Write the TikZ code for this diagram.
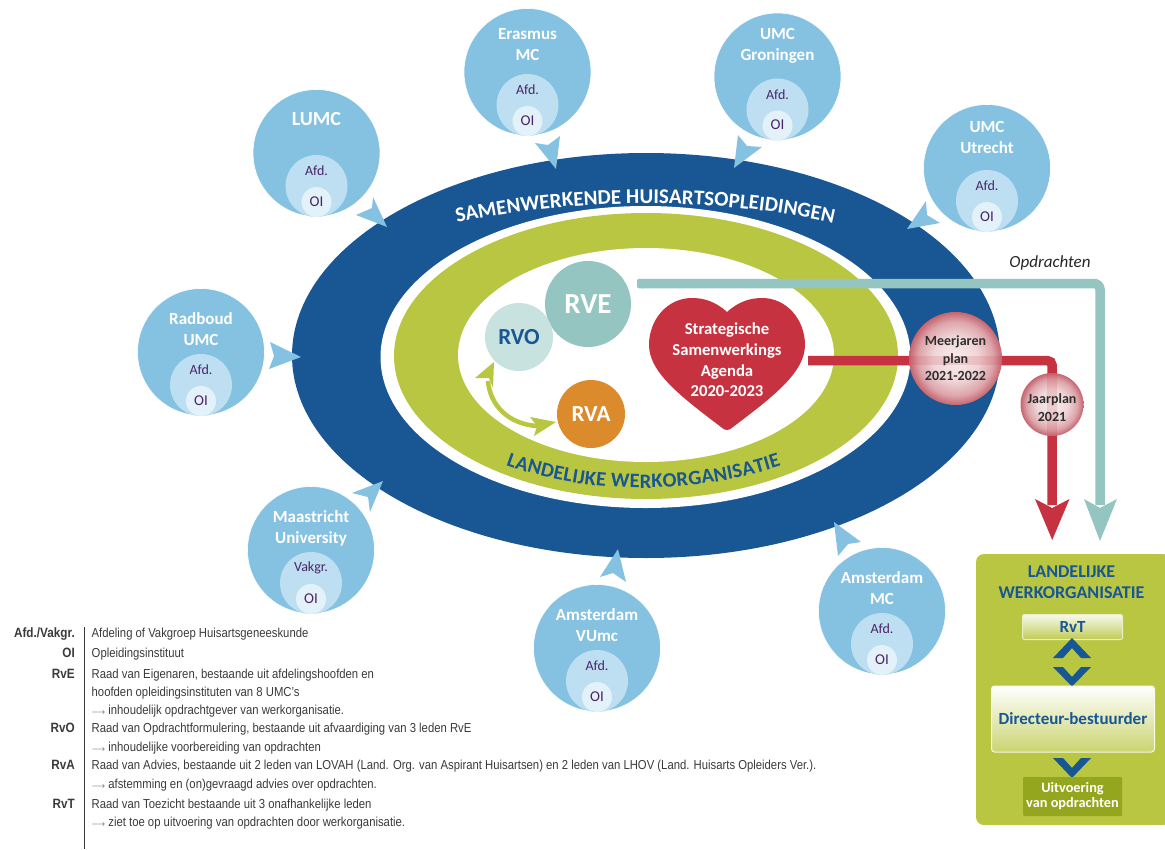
\documentclass[tikz,border=0pt]{standalone}
\usepackage{fontspec}
\setmainfont{Carlito}
\newfontfamily\legendfont[FakeStretch=0.87]{Liberation Sans}
\usetikzlibrary{decorations.text,shadings}
\definecolor{cblue}{HTML}{185694}
\definecolor{cgreen}{HTML}{B9C641}
\definecolor{clight}{HTML}{85C2E1}
\definecolor{cafd}{HTML}{BEDFF1}
\definecolor{coi}{HTML}{E3F1F8}
\definecolor{cteal}{HTML}{94C5C0}
\definecolor{crvo}{HTML}{C8E2E0}
\definecolor{crva}{HTML}{DB8A2C}
\definecolor{cred}{HTML}{C6323F}
\definecolor{cpurple}{HTML}{4B2468}
\definecolor{cdkgreen}{HTML}{94A61E}
\definecolor{clegend}{HTML}{3A3A3A}
\definecolor{cpa}{HTML}{F8ECEC}
\definecolor{cpb}{HTML}{EFD6D8}
\definecolor{cpc}{HTML}{DDA5AB}
\definecolor{cpd}{HTML}{C6656F}
\pgfdeclareradialshading{planshade}{\pgfpoint{0bp}{0bp}}{color(0bp)=(cpa); color(12bp)=(cpb); color(20bp)=(cpc); color(25bp)=(cpd); color(100bp)=(cpd)}
\tikzset{
  disc/.style={circle,inner sep=0pt,fill=#1},
  unibig/.style={disc=clight,minimum size=127pt,draw=white,line width=0.6pt},
  uniafd/.style={disc=cafd,minimum size=62pt},
  unioi/.style={disc=coi,minimum size=30pt},
  unilabel/.style={text=white,align=center,font=\fontsize{17}{21}\selectfont\bfseries},
  sublabel/.style={text=cpurple,font=\fontsize{14}{16}\selectfont},
  oilabel/.style={text=cpurple,font=\fontsize{15}{16}\selectfont},
  kite/.style={fill=clight,draw=none},
  legkey/.style={anchor=base east,inner sep=0pt,text=clegend,font=\fontsize{13.5}{14}\legendfont\bfseries},
  legtxt/.style={anchor=base west,inner sep=0pt,text=clegend,font=\fontsize{13}{14}\legendfont},
  chev/.style={fill=cblue,draw=none},
  plan/.style={circle,inner sep=0pt,shade,shading=planshade},
  plantext/.style={text=black!82,align=center,font=\fontsize{14}{17.5}\selectfont\bfseries},
}
\newcommand{\uni}[7]{% name, x, y, label, label y offset, afd text, oi
  \node[unibig] (#1) at (#2,#3) {};
  \node[uniafd] (#1a) at (#2,#3+33) {};
  \node[unioi] (#1o) at (#2,#3+49) {};
  \node[unilabel] (#1t) at (#2,#3+#5) {#4};
  \node[sublabel] (#1s) at (#2,#3+18) {#6};
  \node[oilabel] (#1i) at (#2,#3+48.5) {#7};
}
\newcommand{\kitearrow}[8]{\fill[kite] (#1,#2) -- (#3,#4) -- (#5,#6) -- (#7,#8) -- cycle;}
\newcommand{\legrow}[3]{\node[legkey] (k#1) at (75,#2) {#3};}
\newcommand{\legline}[3]{\node[legtxt] (t#1) at (91.5,#2) {#3};}
\newcommand{\larr}{{\fontsize{8.5}{14}\selectfont$\longrightarrow$}\hspace{3pt}}
\begin{document}
\begin{tikzpicture}[x=1pt,y=-1pt]
\useasboundingbox (0,0) rectangle (1165,849);
% ellipses
\fill[cblue] (646,355.5) ellipse [x radius=354,y radius=202.5];
\fill[white] (645.5,357) ellipse [x radius=265,y radius=151];
\fill[cgreen] (646,356) ellipse [x radius=252,y radius=143];
\fill[white] (646,355) ellipse [x radius=188,y radius=107];
% curved texts
\path[decorate,decoration={text along path,text align={fit to path},
  text={|\fontsize{21}{21}\selectfont\bfseries\color{white}|SAMENWERKENDE HUISARTSOPLEIDINGEN}}]
  (457,223) .. controls (570,197) and (720,197) .. (833,223);
\path[decorate,decoration={text along path,text align={fit to path},
  text={|\fontsize{20.5}{20.5}\selectfont\bfseries\color{cblue}|LANDELIJKE WERKORGANISATIE}}]
  (506,465) .. controls (590,495.5) and (690,495.5) .. (781,466);
% kites
\kitearrow{387}{227}{356}{215}{372}{208}{373}{197}
\kitearrow{556}{169}{535}{143}{548}{145}{560}{136}
\kitearrow{734}{168}{738}{135}{747}{146}{762}{147}
\kitearrow{907}{229}{926}{201}{927}{215}{940}{223}
\kitearrow{301}{357}{270}{342}{274}{356}{269}{369}
\kitearrow{383}{481}{352}{493}{368}{497}{370}{512}
\kitearrow{618}{549}{600}{577}{613}{573}{626}{582}
\kitearrow{834}{522}{861}{542}{848}{544}{838}{556}
% universities
\uni{lumc}{316.5}{153}{{\fontsize{20}{21}\selectfont LUMC}}{-34}{Afd.}{OI}
\uni{erasmus}{527.5}{72}{Erasmus\\MC}{-27.5}{Afd.}{OI}
\uni{gron}{777.5}{76.5}{UMC\\Groningen}{-30.5}{Afd.}{OI}
\uni{utr}{987}{168}{UMC\\Utrecht}{-30.5}{Afd.}{OI}
\uni{radb}{201}{352}{Radboud\\UMC}{-22.5}{Afd.}{OI}
\uni{maas}{311}{550}{Maastricht\\University}{-22}{Vakgr.}{OI}
\uni{vu}{597}{648}{Amsterdam\\VUmc}{-22.5}{Afd.}{OI}
\uni{amc}{882}{611}{Amsterdam\\MC}{-22.5}{Afd.}{OI}
% central discs
\node[disc=cteal,minimum size=86pt,text=white,font=\fontsize{29}{29}\selectfont\bfseries] (rve) at (588,304) {RVE};
\node[disc=crvo,minimum size=68pt,text=cblue,font=\fontsize{23}{23}\selectfont\bfseries] (rvo) at (519,337) {RVO};
\node[disc=crva,minimum size=68pt,text=white,font=\fontsize{23}{23}\selectfont\bfseries] (rva) at (591,414) {RVA};
% double arrow RVO-RVA
\coordinate (da) at (488,381);
\coordinate (db) at (537,426);
\draw[cgreen,line width=4.5pt] (da) .. controls (490,405) and (508,424) .. (db);
\fill[cgreen] (494,362) -- (475,378) -- (489,378) -- (493,388) -- cycle;
\fill[cgreen] (556,422) -- (530,417) -- (537,426) -- (534,436) -- cycle;
% heart
\fill[cred] (727,312) .. controls (715,301) and (703,298) .. (692,298)
  .. controls (667,298) and (649,320) .. (649,345)
  .. controls (649,372) and (680,396) .. (721,427)
  .. controls (725,431) and (729,431) .. (733,427)
  .. controls (774,396) and (805,372) .. (805,345)
  .. controls (805,320) and (787,298) .. (762,298)
  .. controls (751,298) and (739,301) .. (727,312) -- cycle;
\node[text=white,align=center,font=\fontsize{16.7}{20.6}\selectfont\bfseries] (agenda) at (727,360) {Strategische\\Samenwerkings\\Agenda\\2020-2023};
% red line
\coordinate (rs) at (808,360.5);
\coordinate (rc) at (1052.2,360.5);
\coordinate (re) at (1052.2,505);
\draw[cred,line width=9.5pt,rounded corners=5pt] (rs) -- (rc) -- (re);
\fill[cred] (1052.2,540) -- (1035,499) -- (1052.2,508) -- (1069.5,499) -- cycle;
% teal line
\coordinate (ts) at (642,283.5);
\coordinate (tc) at (1100,283.5);
\coordinate (te) at (1100,505);
\draw[cteal,line width=9.5pt,rounded corners=6pt] (ts) -- (tc) -- (te);
\fill[cteal,rounded corners=2pt] (637,278.75) rectangle (645,288.25);
\fill[cteal] (1100,541) -- (1084,499) -- (1100,508) -- (1117,499) -- cycle;
\node[font=\fontsize{17}{17}\selectfont\itshape,text=black!85] (opdr) at (1050,263) {Opdrachten};
% plans
\node[plan,minimum size=93pt] (meer) at (955.5,358.5) {};
\begin{scope}
  \clip (955.5,358.5) circle [radius=46.5];
  \fill[cred,opacity=.15] (905,355.75) rectangle (1005,365.25);
\end{scope}
\node[plantext] (meert) at (955.5,358.5) {Meerjaren\\plan\\2021-2022};
\node[plan,minimum size=63pt] (jaar) at (1052,404.5) {};
\begin{scope}
  \clip (1052,404.5) circle [radius=31.5];
  \fill[cred,opacity=.15] (1047.45,370) rectangle (1056.95,440);
\end{scope}
\node[plantext] (jaart) at (1052,407.5) {Jaarplan\\2021};
% right box
\node[fill=cgreen,rounded corners=8pt,minimum width=195pt,minimum height=271pt,inner sep=0pt] (wbox) at (1073.5,689.5) {};
\node[text=cblue,align=center,font=\fontsize{18}{21}\selectfont\bfseries] (wtitle) at (1071.5,582.5) {LANDELIJKE\\WERKORGANISATIE};
\node[draw=white!70!cgreen,line width=1pt,top color=white!90!cgreen,bottom color=cgreen!90!white,rounded corners=2pt,minimum width=100pt,minimum height=25pt,inner sep=0pt,text=cblue,font=\fontsize{17}{18}\selectfont\bfseries] (rvt) at (1072.5,627) {RvT};
\fill[chev] (1053,658) -- (1072,638) -- (1091,658) -- (1081,658) -- (1072,648) -- (1063,658) -- cycle;
\fill[chev] (1053,667) -- (1063,667) -- (1072,677) -- (1081,667) -- (1091,667) -- (1072,686.5) -- cycle;
\node[draw=white!90!cgreen,line width=1pt,top color=white,bottom color=cgreen!75!white,rounded corners=3pt,minimum width=163pt,minimum height=66pt,inner sep=0pt,text=cblue,font=\fontsize{17}{18}\selectfont\bfseries] (dir) at (1073,719) {Directeur-bestuurder};
\fill[chev] (1053,758) -- (1063,758) -- (1072,768) -- (1081,758) -- (1091,758) -- (1072,778) -- cycle;
\node[fill=cdkgreen,rounded corners=1pt,minimum width=99pt,minimum height=39pt,inner sep=0pt,text=white,align=center,font=\fontsize{14.3}{15}\selectfont\bfseries] (uitv) at (1072.5,796.5) {Uitvoering\\van opdrachten};
% legend
\coordinate (la) at (84.5,627);
\coordinate (lb) at (84.5,849);
\draw[clegend,line width=0.7pt] (la) -- (lb);
\legrow{1}{637.5}{Afd./Vakgr.}
\legline{1}{637.5}{Afdeling of Vakgroep Huisartsgeneeskunde}
\legrow{2}{657.5}{OI}
\legline{2}{657.5}{Opleidingsinstituut}
\legrow{3}{678}{RvE}
\legline{3}{678}{Raad van Eigenaren, bestaande uit afdelingshoofden en}
\legline{4}{696.5}{hoofden opleidingsinstituten van 8 UMC’s}
\legline{5}{714.5}{\larr inhoudelijk opdrachtgever van werkorganisatie.}
\legrow{6}{732.5}{RvO}
\legline{6}{732.5}{Raad van Opdrachtformulering, bestaande uit afvaardiging van 3 leden RvE}
\legline{7}{751}{\larr inhoudelijke voorbereiding van opdrachten}
\legrow{8}{769.5}{RvA}
\legline{8}{769.5}{Raad van Advies, bestaande uit 2 leden van LOVAH (Land. Org. van Aspirant Huisartsen) en 2 leden van LHOV (Land. Huisarts Opleiders Ver.).}
\legline{9}{788}{\larr afstemming en (on)gevraagd advies over opdrachten.}
\legrow{10}{808}{RvT}
\legline{10}{808}{Raad van Toezicht bestaande uit 3 onafhankelijke leden}
\legline{11}{826}{\larr ziet toe op uitvoering van opdrachten door werkorganisatie.}
\end{tikzpicture}
\end{document}
